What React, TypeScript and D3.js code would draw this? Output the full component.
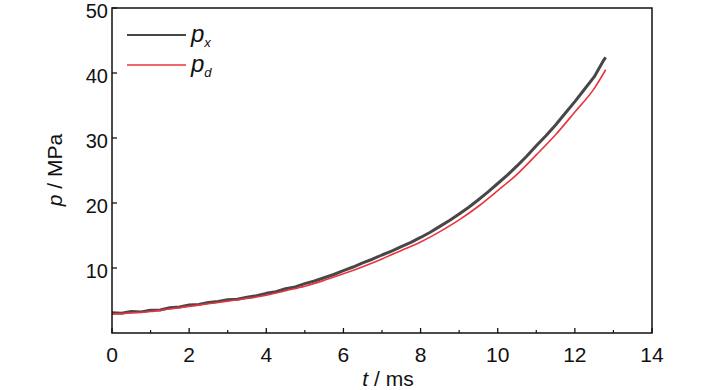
import React from "react";
import * as d3 from "d3";

const timesPx = [0, 0.25, 0.5, 0.75, 1, 1.25, 1.5, 1.75, 2, 2.25, 2.5, 2.75, 3, 3.25, 3.5, 3.75, 4, 4.25, 4.5, 4.75, 5, 5.25, 5.5, 5.75, 6, 6.25, 6.5, 6.75, 7, 7.25, 7.5, 7.75, 8, 8.25, 8.5, 8.75, 9, 9.25, 9.5, 9.75, 10, 10.25, 10.5, 10.75, 11, 11.25, 11.5, 11.75, 12, 12.25, 12.5, 12.75, 12.8];
const pxValues = [3.1, 3.05, 3.3, 3.25, 3.5, 3.55, 3.9, 4.0, 4.3, 4.4, 4.7, 4.85, 5.1, 5.2, 5.5, 5.75, 6.1, 6.35, 6.8, 7.1, 7.6, 8.0, 8.5, 9.0, 9.6, 10.15, 10.8, 11.35, 12.0, 12.6, 13.3, 13.95, 14.7, 15.5, 16.4, 17.3, 18.3, 19.35, 20.5, 21.7, 23.0, 24.3, 25.7, 27.2, 28.8, 30.35, 32.0, 33.8, 35.6, 37.5, 39.4, 42.0, 42.4];

const timesPd = [0, 0.5, 1, 1.5, 2, 2.5, 3, 3.5, 4, 4.5, 5, 5.5, 6, 6.5, 7, 7.5, 8, 8.5, 9, 9.5, 10, 10.5, 11, 11.5, 12, 12.5, 12.8];
const pdValues = [2.9, 3.1, 3.3, 3.7, 4.1, 4.5, 4.9, 5.3, 5.8, 6.5, 7.2, 8.1, 9.1, 10.2, 11.4, 12.7, 14.0, 15.6, 17.4, 19.5, 21.9, 24.4, 27.4, 30.5, 34.0, 37.6, 40.5];

const xTicks = [0, 2, 4, 6, 8, 10, 12, 14];
const xMinorTicks = [1, 3, 5, 7, 9, 11, 13];
const yTicks = [10, 20, 30, 40, 50];

const FONT = "'Liberation Sans', Arial, sans-serif";

export default function App() {
  const W = 728;
  const H = 390;
  const x = d3.scaleLinear().domain([0, 14]).range([112, 652]);
  const y = d3.scaleLinear().domain([0, 50]).range([333, 8]);

  const pxData = timesPx.map((t, i) => [t, pxValues[i]] as [number, number]);
  const pdData = timesPd.map((t, i) => [t, pdValues[i]] as [number, number]);

  const linePx = d3.line<[number, number]>().x(d => x(d[0])).y(d => y(d[1])).curve(d3.curveLinear);
  const linePd = d3.line<[number, number]>().x(d => x(d[0])).y(d => y(d[1])).curve(d3.curveMonotoneX);

  const [x0, x1] = x.range();
  const [y0, y1] = y.range();

  return (
    <svg width={W} height={H} style={{ position: "absolute", left: 0, top: 0, background: "#fff" }} fontFamily={FONT}>
      <rect x={0} y={0} width={W} height={H} fill="#fff" />
      {/* data */}
      <path d={linePx(pxData) || ""} fill="none" stroke="#474747" strokeWidth={3} strokeLinejoin="round" />
      <path d={linePd(pdData) || ""} fill="none" stroke="#e8343f" strokeWidth={1.6} />

      {/* frame */}
      <rect x={x0} y={y1} width={x1 - x0} height={y0 - y1} fill="none" stroke="#111" strokeWidth={1.5} />

      {/* x ticks */}
      {xTicks.map(t => (
        <g key={"xt" + t}>
          <line x1={x(t)} x2={x(t)} y1={y0} y2={y0 - 5} stroke="#111" strokeWidth={1.3} />
          <text x={x(t)} y={y0 + 29} textAnchor="middle" fontSize={21} fill="#111">{t}</text>
        </g>
      ))}
      {xMinorTicks.map(t => (
        <line key={"xm" + t} x1={x(t)} x2={x(t)} y1={y0} y2={y0 - 3} stroke="#111" strokeWidth={1.2} />
      ))}

      {/* y ticks */}
      {yTicks.map(v => (
        <g key={"yt" + v}>
          <line x1={x0} x2={x0 + 5} y1={y(v)} y2={y(v)} stroke="#111" strokeWidth={1.3} />
          <text x={x0 - 4} y={y(v) + 10} textAnchor="end" fontSize={20} fill="#111">{v}</text>
        </g>
      ))}

      {/* axis titles */}
      <text x={388} y={386} textAnchor="middle" fontSize={21} fill="#111">
        <tspan fontStyle="italic">t</tspan> / ms
      </text>
      <text transform="translate(62,170) rotate(-90)" textAnchor="middle" fontSize={21} fill="#111">
        <tspan fontStyle="italic">p</tspan> / MPa
      </text>

      {/* legend */}
      <line x1={127} x2={186} y1={35} y2={35} stroke="#474747" strokeWidth={2} />
      <text x={191} y={42} fontSize={24} fill="#111" fontStyle="italic">
        p<tspan fontSize={13} dy={5}>x</tspan>
      </text>
      <line x1={127} x2={186} y1={65} y2={65} stroke="#e8343f" strokeWidth={1.6} />
      <text x={191} y={72} fontSize={24} fill="#111" fontStyle="italic">
        p<tspan fontSize={13} dy={5}>d</tspan>
      </text>
    </svg>
  );
}
